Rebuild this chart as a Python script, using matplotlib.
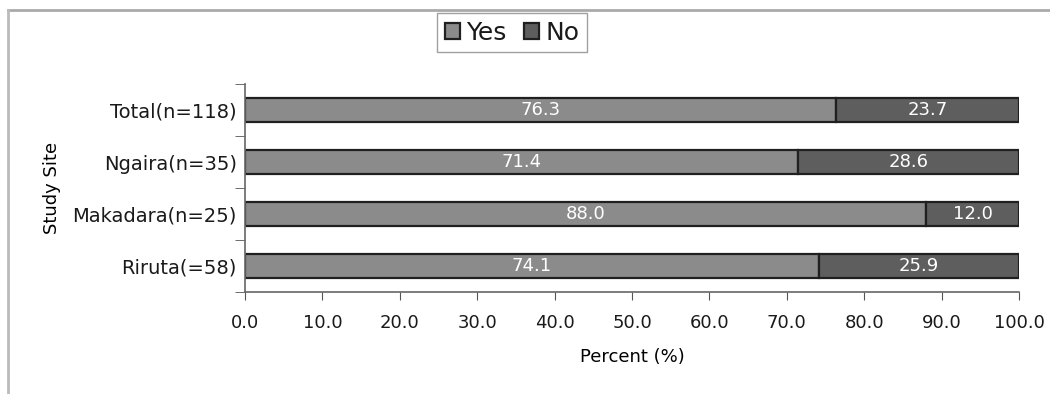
import numpy as np
import matplotlib.pyplot as plt

plt.rcParams['font.family'] = ['DejaVu Sans']
plt.rcParams['text.color'] = '#1a1a1a'
plt.rcParams['xtick.color'] = '#1a1a1a'
plt.rcParams['ytick.color'] = '#1a1a1a'

# Study sites, bottom to top
sites = ["Riruta(=58)", "Makadara(n=25)", "Ngaira(n=35)", "Total(n=118)"]
yes_pct = [74.1, 88.0, 71.4, 76.3]
no_pct = [25.9, 12.0, 28.6, 23.7]
xticks = np.arange(0, 101, 10)

fig = plt.figure(figsize=(10.5, 3.94), dpi=100)
ax = fig.add_axes([245 / 1050, 1 - 292 / 394, 774 / 1050, 208 / 394])

y = np.arange(len(sites))
bar_h = 0.46
ax.barh(y, yes_pct, height=bar_h, color="#8b8b8b", edgecolor="#202020",
        linewidth=1.6, label="Yes")
ax.barh(y, no_pct, left=yes_pct, height=bar_h, color="#5e5e5e",
        edgecolor="#202020", linewidth=1.6, label="No")

# Values printed inside each segment
for i in range(len(sites)):
    ax.text(yes_pct[i] / 2, y[i], f"{yes_pct[i]:.1f}", ha="center", va="center",
            color="white", fontsize=13)
    ax.text(yes_pct[i] + no_pct[i] / 2, y[i], f"{no_pct[i]:.1f}", ha="center",
            va="center", color="white", fontsize=13)

ax.set_xlim(0, 100)
ax.set_ylim(-0.5, len(sites) - 0.5)
ax.set_xticks(xticks)
ax.set_xticklabels([f"{v:.1f}" for v in xticks], fontsize=13)
ax.set_yticks(y)
ax.set_yticklabels(sites, fontsize=14)
ax.tick_params(axis="y", length=0, pad=6)
ax.tick_params(axis="x", length=6, color="#555555", pad=10)
# tick marks between categories on the y axis
ax.set_yticks(np.arange(-0.5, len(sites), 1), minor=True)
ax.tick_params(axis="y", which="minor", length=7, color="#555555")

for s in ["top", "right"]:
    ax.spines[s].set_visible(False)
for s in ["left", "bottom"]:
    ax.spines[s].set_color("#666666")
    ax.spines[s].set_linewidth(1.2)

ax.set_xlabel("Percent (%)", fontsize=13, labelpad=11)
ax.set_ylabel("Study Site", fontsize=13, labelpad=8)

leg = fig.legend(handles=ax.get_legend_handles_labels()[0],
                 labels=["Yes", "No"], loc="upper center",
                 bbox_to_anchor=(512 / 1050, 1 - 13 / 394), ncol=2,
                 fontsize=18, frameon=True, fancybox=False,
                 handlelength=0.6, handleheight=0.6, handletextpad=0.25,
                 columnspacing=0.7, borderpad=0.3, borderaxespad=0)
leg.get_frame().set_edgecolor("#888888")
leg.get_frame().set_linewidth(1.0)

# Outer frame along the top and left edges
fig.add_artist(plt.Line2D([8 / 1050, 1], [1 - 10 / 394, 1 - 10 / 394],
                          transform=fig.transFigure, color="#aaaaaa", lw=2))
fig.add_artist(plt.Line2D([8 / 1050, 8 / 1050], [0, 1 - 10 / 394],
                          transform=fig.transFigure, color="#bbbbbb", lw=2))

fig.savefig("out.png", dpi=100)
